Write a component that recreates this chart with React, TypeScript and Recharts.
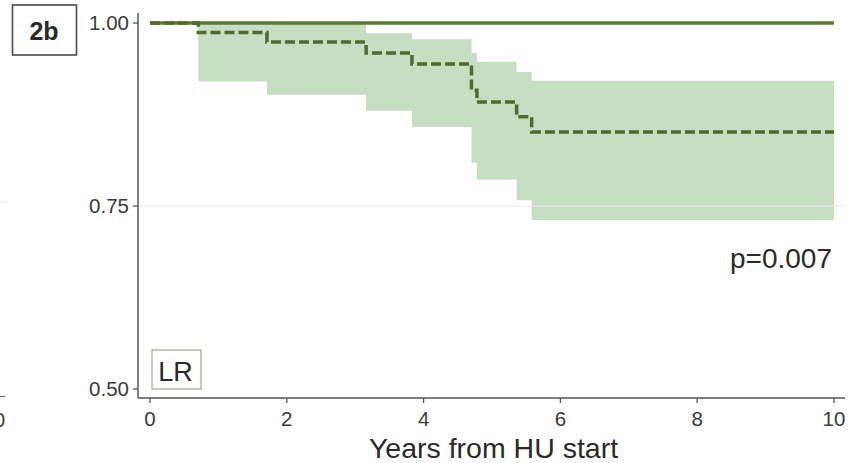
import React from "react";
import {
  ComposedChart,
  Line,
  Area,
  XAxis,
  YAxis,
  ReferenceLine,
  Customized,
} from "recharts";

// Years from HU start (step times)
const times = [0, 0.706, 1.71, 3.16, 3.83, 4.7, 4.78, 5.36, 5.58, 10];
// Kaplan-Meier estimate (dashed)
const survHU = [1, 0.987, 0.974, 0.959, 0.944, 0.908, 0.892, 0.872, 0.851, 0.851];
// 95% CI bounds
const ciLow = [null, 0.92, 0.902, 0.88, 0.858, 0.809, 0.786, 0.758, 0.731, 0.731];
const ciHigh = [null, 1.0, 1.0, 0.986, 0.978, 0.959, 0.947, 0.933, 0.921, 0.921];
// Reference (solid) curve
const refSurv = [1, 1, 1, 1, 1, 1, 1, 1, 1, 1];

const xTicks = [0, 2, 4, 6, 8, 10];
const yTicks = [0.5, 0.75, 1.0];

const data = times.map((t, i) => ({
  t,
  s: survHU[i],
  ref: refSurv[i],
  ci: ciLow[i] == null ? null : [ciLow[i], ciHigh[i]],
}));

const FONT = "'Liberation Sans', Arial, sans-serif";
const AXIS = "#555555";

const Annotations = () => (
  <g fontFamily={FONT}>
    {/* panel label */}
    <rect x={12.5} y={5} width={64} height={50} fill="#fff" stroke="#4a4a4a" strokeWidth={1.6} />
    <text x={44} y={39.5} textAnchor="middle" fontSize={25} fontWeight="bold" fill="#2a2a2a">
      2b
    </text>
    {/* LR box */}
    <rect x={152} y={350} width={49} height={39} fill="#fff" stroke="#a4ae90" strokeWidth={1.3} />
    <text x={175.5} y={380.5} textAnchor="middle" fontSize={27} fill="#2a2a2a">
      LR
    </text>
    {/* p value */}
    <text x={832} y={268} textAnchor="end" fontSize={28} fill="#2a2a2a">
      p=0.007
    </text>
    {/* fragments of neighbouring panel */}
    <line x1={0} y1={202} x2={8} y2={202} stroke="#e6e6e6" strokeWidth={1} />
    <line x1={0} y1={396.5} x2={5} y2={396.5} stroke="#777" strokeWidth={1.3} />
    <text x={-6} y={427} textAnchor="middle" fontSize={20} fill="#3a3a3a">
      10
    </text>
  </g>
);

export default function App() {
  return (
    <div
      style={{
        position: "absolute",
        left: 0,
        top: 0,
        width: 851,
        height: 463,
        background: "#ffffff",
      }}
    >
      <ComposedChart
        width={851}
        height={463}
        data={data}
        margin={{ top: 13, right: 6, bottom: 0, left: 78 }}
      >
        <XAxis
          dataKey="t"
          type="number"
          domain={[-0.1754, 10.161]}
          allowDataOverflow
          ticks={xTicks}
          height={65}
          tickSize={5}
          tickMargin={8}
          axisLine={{ stroke: AXIS, strokeWidth: 1.5 }}
          tickLine={{ stroke: AXIS, strokeWidth: 1.3 }}
          tick={{ fill: "#3a3a3a", fontSize: 20.5, fontFamily: FONT }}
          label={{
            content: (props: any) => {
              const vb = props.viewBox || { x: 138, width: 707 };
              return (
                <text
                  x={vb.x + vb.width / 2 + 2}
                  y={458}
                  textAnchor="middle"
                  fontSize={28.5}
                  fontFamily={FONT}
                  fill="#2a2a2a"
                >
                  Years from HU start
                </text>
              );
            },
          }}
        />
        <YAxis
          type="number"
          domain={[0.4877, 1.0137]}
          allowDataOverflow
          ticks={yTicks}
          width={60}
          tickSize={5}
          tickMargin={4}
          tickFormatter={(v: number) => v.toFixed(2)}
          axisLine={{ stroke: AXIS, strokeWidth: 1.5 }}
          tickLine={{ stroke: AXIS, strokeWidth: 1.3 }}
          tick={{ fill: "#3a3a3a", fontSize: 20.5, fontFamily: FONT }}
        />
        <ReferenceLine y={0.75} stroke="#e8e8e8" strokeWidth={1} />
        <Area
          dataKey="ci"
          type="stepAfter"
          stroke="none"
          fill="#c6dec2"
          fillOpacity={1}
          isAnimationActive={false}
          connectNulls={false}
          dot={false}
          activeDot={false}
        />
        <Line
          dataKey="ref"
          type="stepAfter"
          stroke="#5b7a33"
          strokeWidth={3.5}
          dot={false}
          activeDot={false}
          isAnimationActive={false}
        />
        <Line
          dataKey="s"
          type="stepAfter"
          stroke="#4e6b2e"
          strokeWidth={3.5}
          strokeDasharray="10 4"
          dot={false}
          activeDot={false}
          isAnimationActive={false}
        />
        <Customized component={<Annotations />} />
      </ComposedChart>
    </div>
  );
}
